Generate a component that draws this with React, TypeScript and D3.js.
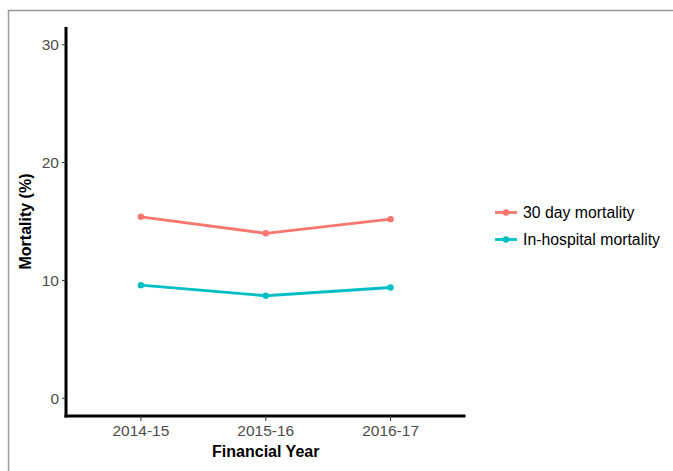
import React, { useEffect, useRef } from 'react';
import * as d3 from 'd3';

const years = ['2014-15', '2015-16', '2016-17'];
const thirtyDay = [15.4, 14.0, 15.2];
const inHospital = [9.6, 8.7, 9.4];
const seriesNames = ['30 day mortality', 'In-hospital mortality'];
const seriesColors = ['#F8766D', '#00BFC4'];
const yTicks = [0, 10, 20, 30];

const W = 673;
const H = 471;

const App: React.FC = () => {
  const ref = useRef<SVGSVGElement>(null);

  useEffect(() => {
    const { current: node } = ref;
    if (!node) {
      return;
    }
    const svg = d3.select(node);
    svg.selectAll('*').remove();
    const font = 'Liberation Sans, Arial, sans-serif';

    // outer frame of the picture
    svg
      .append('path')
      .attr('d', `M8.5,${H} L8.5,10.5 L${W},10.5`)
      .attr('fill', 'none')
      .attr('stroke', '#9a9a9a')
      .attr('stroke-width', 1.5);

    const left = 66;
    const right = 465.5;
    const top = 27;
    const bottom = 416;

    // ggplot style expansion: discrete 0.6, continuous 5%
    const x = d3.scaleLinear().domain([0.4, 3.6]).range([left, right]);
    const y = d3.scaleLinear().domain([-1.5, 31.5]).range([bottom, top]);

    const g = svg.append('g');

    // axes lines
    g.append('line')
      .attr('x1', left)
      .attr('x2', left)
      .attr('y1', top)
      .attr('y2', bottom + 1.5)
      .attr('stroke', '#000')
      .attr('stroke-width', 3);
    g.append('line')
      .attr('x1', left - 1.5)
      .attr('x2', right)
      .attr('y1', bottom)
      .attr('y2', bottom)
      .attr('stroke', '#000')
      .attr('stroke-width', 3);

    // y ticks
    yTicks.forEach((t) => {
      g.append('line')
        .attr('x1', left - 4)
        .attr('x2', left)
        .attr('y1', y(t))
        .attr('y2', y(t))
        .attr('stroke', '#333')
        .attr('stroke-width', 1);
      g.append('text')
        .attr('x', left - 7)
        .attr('y', y(t))
        .attr('dy', '0.36em')
        .attr('text-anchor', 'end')
        .attr('font-family', font)
        .attr('font-size', 15.5)
        .attr('fill', '#4d4d4d')
        .text(t);
    });

    // x ticks
    years.forEach((yr, i) => {
      const px = x(i + 1);
      g.append('line')
        .attr('x1', px)
        .attr('x2', px)
        .attr('y1', bottom)
        .attr('y2', bottom + 5)
        .attr('stroke', '#333')
        .attr('stroke-width', 1);
      g.append('text')
        .attr('x', px)
        .attr('y', bottom + 20)
        .attr('text-anchor', 'middle')
        .attr('font-family', font)
        .attr('font-size', 15.5)
        .attr('fill', '#4d4d4d')
        .text(yr);
    });

    // axis titles
    g.append('text')
      .attr('x', (left + right) / 2)
      .attr('y', 457)
      .attr('text-anchor', 'middle')
      .attr('font-family', font)
      .attr('font-size', 16)
      .attr('font-weight', 'bold')
      .text('Financial Year');
    g.append('text')
      .attr('transform', `translate(31,${(top + bottom) / 2}) rotate(-90)`)
      .attr('text-anchor', 'middle')
      .attr('font-family', font)
      .attr('font-size', 16)
      .attr('font-weight', 'bold')
      .text('Mortality (%)');

    const line = d3
      .line<number>()
      .x((_, i) => x(i + 1))
      .y((d) => y(d));

    [thirtyDay, inHospital].forEach((vals, k) => {
      g.append('path')
        .datum(vals)
        .attr('d', line)
        .attr('fill', 'none')
        .attr('stroke', seriesColors[k])
        .attr('stroke-width', 2.8);
      g.selectAll(null)
        .data(vals)
        .enter()
        .append('circle')
        .attr('cx', (_, i) => x(i + 1))
        .attr('cy', (d) => y(d))
        .attr('r', 3.2)
        .attr('fill', seriesColors[k]);
    });

    // legend
    const legendY = [212.5, 239.5];
    seriesNames.forEach((name, k) => {
      const lg = g.append('g').attr('transform', `translate(0,${legendY[k]})`);
      lg.append('line')
        .attr('x1', 495)
        .attr('x2', 517)
        .attr('stroke', seriesColors[k])
        .attr('stroke-width', 2.8);
      lg.append('circle').attr('cx', 506).attr('r', 3.2).attr('fill', seriesColors[k]);
      lg.append('text')
        .attr('x', 523)
        .attr('dy', '0.36em')
        .attr('font-family', font)
        .attr('font-size', 15.8)
        .attr('fill', '#000')
        .text(name);
    });
  }, []);

  return (
    <svg
      ref={ref}
      width={W}
      height={H}
      style={{ position: 'absolute', left: 0, top: 0, background: '#fff' }}
    />
  );
};

export default App;
